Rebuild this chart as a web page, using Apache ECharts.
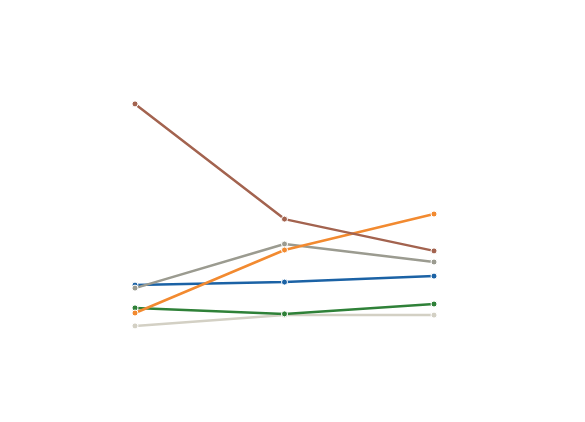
<!DOCTYPE html>
<html lang="en">
<head>
  <meta charset="UTF-8">
  <title>Lines</title>
  <script src="https://cdn.jsdelivr.net/npm/echarts@6/dist/echarts.min.js"></script>
  <style>html,body{margin:0;background:#fff}</style>
</head>
<body>
<div id="main" style="width:585px;height:422px;"></div>
<script type="text/javascript">
  const categories = ['A', 'B', 'C']
  const brown = [98.7, 60.3, 49.7]
  const orange = [29, 50, 62]
  const gray = [37.3, 52, 46]
  const blue = [38.3, 39.3, 41.3]
  const green = [30.7, 28.7, 32]
  const beige = [24.7, 28.3, 28.3]

  const mk = (name, data, color) => ({
    name, type: 'line', data,
    symbol: 'circle', symbolSize: 6,
    lineStyle: { width: 2.5, color },
    itemStyle: { color, borderColor: '#fff', borderWidth: 1 }
  })

  const chart = echarts.init(document.getElementById('main'))
  chart.setOption({
    animation: false,
    grid: { left: 135, right: 151, top: 100, height: 300 },
    xAxis: { type: 'category', data: categories, boundaryGap: false, show: false },
    yAxis: { type: 'value', min: 0, max: 100, show: false },
    series: [
      mk('beige', beige, '#d3d0c4'),
      mk('green', green, '#2f8138'),
      mk('blue', blue, '#1b62a5'),
      mk('gray', gray, '#9b9b90'),
      mk('orange', orange, '#f28a30'),
      mk('brown', brown, '#a3634f')
    ]
  })
</script>
</body>
</html>
